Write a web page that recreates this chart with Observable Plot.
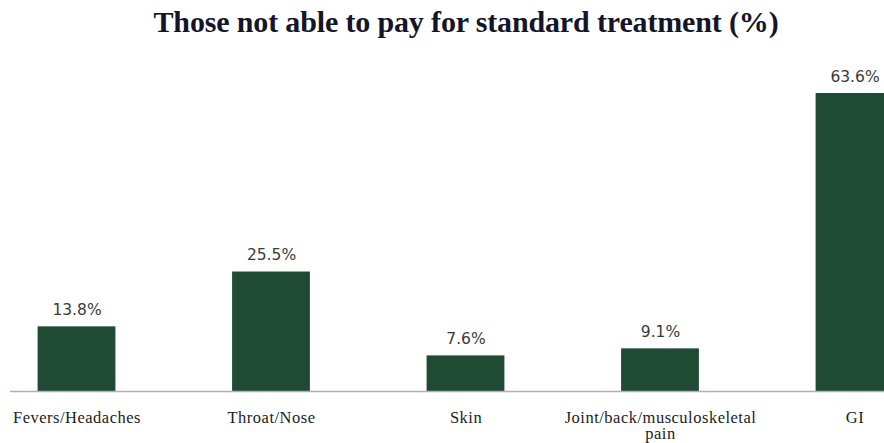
<!DOCTYPE html>
<html>
<head>
<meta charset="utf-8">
<script src="https://cdn.jsdelivr.net/npm/d3@7"></script>
<script src="https://cdn.jsdelivr.net/npm/@observablehq/plot@0.6"></script>
<style>
  html, body { margin: 0; padding: 0; background: #fff; }
  #wrap { width: 884px; height: 443px; overflow: hidden; }
  #title {
    height: 50px; box-sizing: border-box;
    padding-left: 48px; padding-top: 5px;
    text-align: center;
    font-family: "Liberation Serif", "Times New Roman", serif;
    font-weight: bold; font-size: 30px; line-height: 34px;
    color: #14142a; letter-spacing: -0.15px;
  }
  svg { display: block; }
</style>
</head>
<body>
<div id="wrap">
  <div id="title">Those not able to pay for standard treatment (%)</div>
  <div id="chart"></div>
</div>
<script>
const categories = ["Fevers/Headaches", "Throat/Nose", "Skin", "Joint/back/musculoskeletal\npain", "GI"];
const values = [13.8, 25.5, 7.6, 9.1, 63.6];
const valueLabels = ["13.8%", "25.5%", "7.6%", "9.1%", "63.6%"];

const data = categories.map((c, i) => ({category: c, value: values[i], label: valueLabels[i]}));

const chart = Plot.plot({
  width: 884,
  height: 393,
  marginLeft: 10,
  marginRight: 0,
  marginTop: 0,
  marginBottom: 0,
  x: {domain: categories, range: [-20.75, 951.75], paddingInner: 0.6, paddingOuter: 0.3, round: false, axis: null},
  y: {domain: [0, d3.max(values)], range: [341, 43], axis: null},
  marks: [
    Plot.barY(data, {x: "category", y: "value", fill: "#1f4b34"}),
    Plot.ruleY([0], {stroke: "#c3a4c6", strokeWidth: 1.5}),
    Plot.text(data, {
      x: "category", y: "value", text: "label",
      lineAnchor: "bottom", dy: -12,
      fontFamily: "DejaVu Sans, Verdana, sans-serif", fontSize: 15.5, fill: "#3a3a3a"
    }),
    Plot.text(data, {
      x: "category", y: 0, text: "category",
      lineAnchor: "top", dy: 20, lineHeight: 0.97,
      fontFamily: "Liberation Serif, Times New Roman, serif", fontSize: 16.5, fill: "#222"
    })
  ]
});
d3.select(chart).selectAll('g[aria-label="text"]')
  .filter((d, i) => i === 1)
  .style("letter-spacing", "0.5px");
document.getElementById("chart").appendChild(chart);
</script>
</body>
</html>
